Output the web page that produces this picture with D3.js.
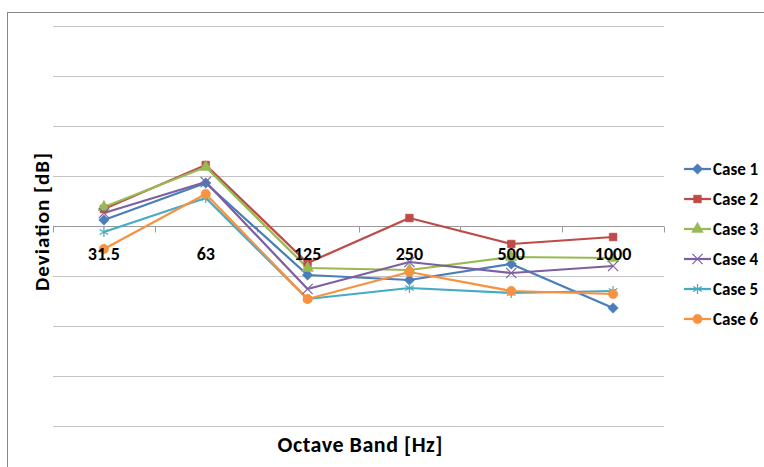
<!DOCTYPE html>
<html>
<head>
<meta charset="utf-8">
<script src="https://cdn.jsdelivr.net/npm/d3@7"></script>
<style>
  body { margin: 0; background: #fff; }
  svg text { font-family: Carlito, Lato, "Open Sans", sans-serif; font-weight: bold; fill: #000; }
</style>
</head>
<body>
<svg id="chart"></svg>
<script>
const bands = ['31.5', '63', '125', '250', '500', '1000'];
const seriesNames = ['Case 1', 'Case 2', 'Case 3', 'Case 4', 'Case 5', 'Case 6'];
const case1 = [0.12, 0.86, -0.98, -1.08, -0.76, -1.64];
const case2 = [0.34, 1.22, -0.74, 0.16, -0.36, -0.22];
const case3 = [0.38, 1.18, -0.84, -0.88, -0.62, -0.64];
const case4 = [0.26, 0.88, -1.26, -0.72, -0.94, -0.80];
const case5 = [-0.12, 0.56, -1.46, -1.24, -1.34, -1.30];
const case6 = [-0.46, 0.64, -1.46, -0.92, -1.30, -1.36];
const yTicks = [-4, -3, -2, -1, 0, 1, 2, 3, 4];

(() => {
  const dim = { w: 764, h: 467 },
    plot = { l: 53, r: 664, t: 26, b: 426 },
    colors = ['#4a7ebb', '#be4b48', '#98b954', '#7d60a0', '#46aac5', '#f69240'],
    symbols = [d3.symbolDiamond2, d3.symbolSquare, d3.symbolTriangle, d3.symbolTimes, d3.symbolAsterisk, d3.symbolCircle],
    values = [case1, case2, case3, case4, case5, case6],
    $svg = d3.select('#chart')
      .attr('width', dim.w)
      .attr('height', dim.h);

  const xScale = d3.scaleBand().domain(bands).range([plot.l, plot.r]),
    yScale = d3.scaleLinear().domain([-4, 4]).range([plot.b, plot.t]),
    cx = (d) => xScale(d) + xScale.bandwidth() / 2;

  // outer chart frame (cropped at right/bottom like the picture)
  $svg.append('rect')
    .attr('x', 7.5).attr('y', 12.5)
    .attr('width', 800).attr('height', 500)
    .attr('fill', 'none').attr('stroke', '#878787').attr('stroke-width', 1);

  // gridlines
  $svg.append('g')
    .selectAll('line')
    .data(yTicks.filter((t) => t !== 0))
    .enter().append('line')
    .attr('x1', plot.l).attr('x2', plot.r)
    .attr('y1', (d) => Math.round(yScale(d)) + 0.5)
    .attr('y2', (d) => Math.round(yScale(d)) + 0.5)
    .attr('stroke', '#c4c4c4').attr('stroke-width', 1);

  // category axis at zero
  const y0 = Math.round(yScale(0)) + 0.5;
  const edges = bands.map((b) => xScale(b)).concat([xScale(bands[bands.length - 1]) + xScale.bandwidth()]);
  const axisG = $svg.append('g');
  axisG.append('line')
    .attr('x1', plot.l).attr('x2', plot.r)
    .attr('y1', y0).attr('y2', y0)
    .attr('stroke', '#9a9a9a').attr('stroke-width', 1);
  axisG.selectAll('line.tick')
    .data(edges)
    .enter().append('line')
    .attr('class', 'tick')
    .attr('x1', (d) => Math.round(d) + 0.5).attr('x2', (d) => Math.round(d) + 0.5)
    .attr('y1', y0).attr('y2', y0 + 6)
    .attr('stroke', '#9a9a9a').attr('stroke-width', 1);

  // series lines and markers
  values.forEach((vals, i) => {
    const pts = bands.map((b, j) => [cx(b), yScale(vals[j])]);
    $svg.append('path')
      .attr('d', d3.line()(pts))
      .attr('fill', 'none')
      .attr('stroke', colors[i])
      .attr('stroke-width', 2.25)
      .attr('stroke-linejoin', 'round');
  });

  const drawMarker = (g, i, x, y) => {
    const stroked = (i === 3 || i === 4);
    const size = [70, 60, 60, 70, 70, 70][i];
    g.append('path')
      .attr('d', d3.symbol().type(symbols[i]).size(size)())
      .attr('transform', 'translate(' + x + ',' + y + ')')
      .attr('fill', stroked ? 'none' : colors[i])
      .attr('stroke', colors[i])
      .attr('stroke-width', stroked ? 1.2 : 0.5);
  };

  values.forEach((vals, i) => {
    const g = $svg.append('g');
    bands.forEach((b, j) => drawMarker(g, i, cx(b), yScale(vals[j])));
  });

  // category labels
  $svg.append('g')
    .selectAll('text')
    .data(bands)
    .enter().append('text')
    .attr('x', (d) => cx(d))
    .attr('y', y0 + 33)
    .attr('text-anchor', 'middle')
    .attr('font-size', 18)
    .text((d) => d);

  // axis titles
  $svg.append('text')
    .text('Deviation [dB]')
    .attr('text-anchor', 'middle')
    .attr('font-size', 21)
    .attr('textLength', 138)
    .attr('lengthAdjust', 'spacing')
    .attr('transform', 'translate(49, 222) rotate(-90)');
  $svg.append('text')
    .text('Octave Band [Hz]')
    .attr('text-anchor', 'middle')
    .attr('font-size', 22)
    .attr('textLength', 165)
    .attr('lengthAdjust', 'spacing')
    .attr('x', 360)
    .attr('y', 452);

  // legend
  const legend = $svg.append('g');
  seriesNames.forEach((name, i) => {
    const ly = 169 + i * 30;
    legend.append('line')
      .attr('x1', 684).attr('x2', 711)
      .attr('y1', ly).attr('y2', ly)
      .attr('stroke', colors[i]).attr('stroke-width', 2.25);
    drawMarker(legend, i, 697.5, ly);
    legend.append('text')
      .attr('x', 713).attr('y', ly + 6)
      .attr('font-size', 17)
      .text(name);
  });
})();
</script>
</body>
</html>
